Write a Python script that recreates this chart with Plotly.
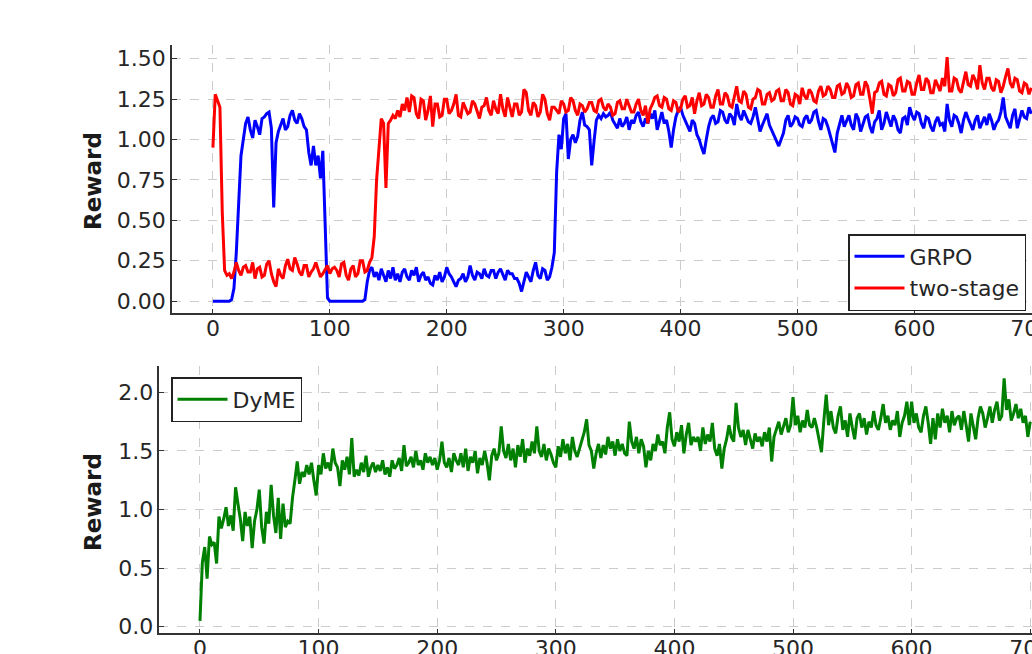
import plotly.graph_objects as go

steps = list(range(0, 701, 2))

grpo = [
    0.00, 0.00, 0.00, 0.00, 0.00, 0.00, 0.00, 0.00, 0.01, 0.08,
    0.30, 0.65, 0.90, 1.00, 1.10, 1.14, 1.06, 1.01, 1.12, 1.08,
    1.03, 1.13, 1.14, 1.16, 1.17, 1.07, 0.58, 0.98, 1.05, 1.09,
    1.13, 1.06, 1.08, 1.15, 1.18, 1.12, 1.10, 1.16, 1.13, 1.08,
    1.06, 0.92, 0.84, 0.96, 0.84, 0.90, 0.76, 0.93, 0.40, 0.02,
    0.00, 0.00, 0.00, 0.00, 0.00, 0.00, 0.00, 0.00, 0.00, 0.00,
    0.00, 0.00, 0.00, 0.00, 0.00, 0.01, 0.12, 0.19, 0.21, 0.15,
    0.18, 0.13, 0.20, 0.16, 0.12, 0.19, 0.14, 0.21, 0.13, 0.17,
    0.12, 0.18, 0.20, 0.15, 0.13, 0.19, 0.16, 0.21, 0.12, 0.16,
    0.18, 0.13, 0.15, 0.11, 0.10, 0.16, 0.13, 0.18, 0.12, 0.15,
    0.21, 0.17, 0.15, 0.12, 0.09, 0.13, 0.14, 0.17, 0.12, 0.15,
    0.22, 0.16, 0.13, 0.18, 0.17, 0.14, 0.20, 0.16, 0.15, 0.19,
    0.19, 0.14, 0.18, 0.20, 0.16, 0.13, 0.19, 0.17, 0.17, 0.14,
    0.14, 0.11, 0.06, 0.12, 0.18, 0.15, 0.12, 0.19, 0.24, 0.16,
    0.14, 0.20, 0.19, 0.13, 0.15, 0.21, 0.30, 0.80, 1.03, 0.94,
    1.13, 1.16, 0.88, 1.00, 1.03, 0.98, 1.02, 1.12, 1.17, 1.09,
    1.08, 1.06, 0.84, 0.99, 1.12, 1.15, 1.13, 1.16, 1.14, 1.15,
    1.17, 1.12, 1.09, 1.07, 1.13, 1.08, 1.10, 1.14, 1.06, 1.12,
    1.10, 1.15, 1.17, 1.11, 1.08, 1.13, 1.10, 1.16, 1.13, 1.18,
    1.06, 1.12, 1.17, 1.10, 1.12, 1.05, 0.95, 1.06, 1.14, 1.18,
    1.20, 1.15, 1.12, 1.08, 1.05, 1.12, 1.10, 1.03, 1.00, 0.95,
    0.91, 1.00, 1.08, 1.13, 1.15, 1.10, 1.11, 1.18, 1.17, 1.12,
    1.10, 1.16, 1.14, 1.09, 1.22, 1.15, 1.12, 1.18, 1.15, 1.11,
    1.10, 1.14, 1.20, 1.13, 1.05, 1.09, 1.12, 1.16, 1.09, 1.06,
    1.02, 0.99, 0.96, 1.00, 1.04, 1.12, 1.15, 1.08, 1.10, 1.14,
    1.13, 1.09, 1.08, 1.13, 1.15, 1.10, 1.12, 1.17, 1.18, 1.11,
    1.06, 1.13, 1.12, 1.08, 1.03, 0.97, 0.92, 1.04, 1.10, 1.15,
    1.08, 1.12, 1.15, 1.09, 1.06, 1.16, 1.13, 1.05, 1.09, 1.14,
    1.15, 1.08, 1.04, 1.11, 1.13, 1.18, 1.06, 1.10, 1.17, 1.12,
    1.08, 1.15, 1.12, 1.06, 1.04, 1.13, 1.14, 1.09, 1.20, 1.15,
    1.12, 1.17, 1.16, 1.10, 1.07, 1.14, 1.13, 1.08, 1.05, 1.11,
    1.14, 1.09, 1.10, 1.05, 1.22, 1.12, 1.08, 1.15, 1.14, 1.10,
    1.04, 1.12, 1.17, 1.13, 1.10, 1.06, 1.12, 1.15, 1.07, 1.11,
    1.14, 1.09, 1.16, 1.12, 1.06, 1.10, 1.12, 1.17, 1.26, 1.14,
    1.10, 1.07, 1.15, 1.19, 1.07, 1.12, 1.18, 1.14, 1.13, 1.20,
    1.16,
]

two_stage = [
    0.95, 1.28, 1.24, 1.20, 0.55, 0.19, 0.16, 0.17, 0.14, 0.18,
    0.24, 0.19, 0.16, 0.21, 0.22, 0.18, 0.18, 0.24, 0.14, 0.20,
    0.21, 0.15, 0.16, 0.23, 0.25, 0.17, 0.12, 0.09, 0.20, 0.16,
    0.14, 0.22, 0.26, 0.20, 0.19, 0.27, 0.23, 0.18, 0.16, 0.22,
    0.22, 0.15, 0.18, 0.20, 0.24, 0.19, 0.15, 0.17, 0.20, 0.22,
    0.17, 0.20, 0.21, 0.19, 0.15, 0.23, 0.24, 0.16, 0.13, 0.20,
    0.22, 0.15, 0.17, 0.25, 0.25, 0.18, 0.19, 0.24, 0.27, 0.40,
    0.75, 0.95, 1.13, 1.10, 0.70, 1.10, 1.12, 1.15, 1.13, 1.18,
    1.14, 1.22, 1.18, 1.26, 1.17, 1.27, 1.26, 1.16, 1.13, 1.25,
    1.24, 1.12, 1.18, 1.27, 1.08, 1.22, 1.22, 1.14, 1.15, 1.25,
    1.25, 1.16, 1.18, 1.22, 1.28, 1.15, 1.14, 1.23, 1.20, 1.16,
    1.17, 1.24, 1.22, 1.17, 1.13, 1.20, 1.21, 1.26, 1.18, 1.15,
    1.24, 1.19, 1.16, 1.28, 1.19, 1.14, 1.26, 1.20, 1.14, 1.22,
    1.22, 1.15, 1.17, 1.31, 1.29, 1.18, 1.15, 1.23, 1.21, 1.14,
    1.17, 1.28, 1.25, 1.16, 1.12, 1.20, 1.20, 1.18, 1.16, 1.24,
    1.22, 1.17, 1.18, 1.26, 1.24, 1.18, 1.15, 1.22, 1.21, 1.17,
    1.19, 1.23, 1.23, 1.18, 1.17, 1.24, 1.25, 1.20, 1.18, 1.22,
    1.20, 1.15, 1.16, 1.23, 1.24, 1.19, 1.19, 1.25, 1.21, 1.17,
    1.17, 1.22, 1.25, 1.18, 1.15, 1.21, 1.10, 1.19, 1.22, 1.26,
    1.27, 1.21, 1.20, 1.26, 1.25, 1.19, 1.18, 1.24, 1.23, 1.17,
    1.19, 1.25, 1.27, 1.20, 1.21, 1.26, 1.16, 1.24, 1.29, 1.21,
    1.22, 1.28, 1.26, 1.20, 1.20, 1.27, 1.31, 1.22, 1.22, 1.29,
    1.27, 1.21, 1.20, 1.27, 1.33, 1.24, 1.23, 1.30, 1.28, 1.20,
    1.19, 1.25, 1.26, 1.31, 1.30, 1.22, 1.22, 1.28, 1.29, 1.24,
    1.25, 1.30, 1.31, 1.24, 1.24, 1.31, 1.29, 1.22, 1.21, 1.28,
    1.27, 1.22, 1.32, 1.27, 1.25, 1.31, 1.29, 1.24, 1.23, 1.30,
    1.33, 1.27, 1.28, 1.33, 1.31, 1.26, 1.26, 1.33, 1.34, 1.28,
    1.29, 1.35, 1.32, 1.26, 1.27, 1.34, 1.35, 1.28, 1.28, 1.36,
    1.33, 1.25, 1.16, 1.29, 1.30, 1.35, 1.36, 1.28, 1.27, 1.34,
    1.33, 1.27, 1.29, 1.37, 1.38, 1.30, 1.30, 1.36, 1.35, 1.28,
    1.28, 1.35, 1.40, 1.31, 1.31, 1.38, 1.36, 1.29, 1.29, 1.37,
    1.34, 1.30, 1.38, 1.33, 1.51, 1.30, 1.30, 1.38, 1.37, 1.31,
    1.29, 1.36, 1.42, 1.34, 1.33, 1.40, 1.37, 1.31, 1.46, 1.35,
    1.31, 1.38, 1.38, 1.32, 1.30, 1.37, 1.36, 1.29, 1.33, 1.39,
    1.44, 1.35, 1.32, 1.38, 1.37, 1.30, 1.29, 1.35, 1.34, 1.28,
    1.32,
]

dyme = [
    0.05, 0.55, 0.68, 0.41, 0.77, 0.70, 0.72, 0.54, 0.94, 0.84,
    0.92, 1.02, 0.86, 0.95, 0.82, 1.19, 1.05, 0.92, 0.73, 0.98,
    0.86, 0.94, 0.67, 0.90, 1.00, 1.17, 0.85, 0.71, 0.98, 0.88,
    1.21, 0.95, 0.80, 1.10, 0.75, 1.05, 0.85, 0.90, 0.88, 1.10,
    1.25, 1.41, 1.22, 1.32, 1.28, 1.38, 1.30, 1.40, 1.25, 1.12,
    1.38, 1.30, 1.48, 1.35, 1.40, 1.33, 1.52, 1.40, 1.36, 1.20,
    1.42, 1.34, 1.45, 1.30, 1.61, 1.28, 1.34, 1.29, 1.40, 1.32,
    1.46, 1.28, 1.36, 1.40, 1.32, 1.38, 1.33, 1.42, 1.30, 1.36,
    1.28, 1.42, 1.35, 1.38, 1.44, 1.33, 1.55, 1.37, 1.40, 1.45,
    1.36, 1.50, 1.38, 1.42, 1.34, 1.48, 1.40, 1.45, 1.38, 1.44,
    1.34, 1.42, 1.58, 1.40, 1.36, 1.44, 1.32, 1.48, 1.42, 1.38,
    1.48, 1.36, 1.52, 1.33, 1.45, 1.40, 1.50, 1.31, 1.44, 1.38,
    1.50, 1.40, 1.25, 1.46, 1.52, 1.42, 1.48, 1.71, 1.50, 1.44,
    1.56, 1.42, 1.52, 1.36, 1.55, 1.45, 1.60, 1.40, 1.52, 1.46,
    1.58, 1.48, 1.71, 1.50, 1.45, 1.56, 1.42, 1.52, 1.47, 1.40,
    1.36, 1.54, 1.45, 1.60, 1.48, 1.56, 1.42, 1.62, 1.50, 1.45,
    1.52, 1.60, 1.66, 1.77, 1.55, 1.50, 1.35, 1.48, 1.56, 1.44,
    1.55, 1.47, 1.62, 1.52, 1.58, 1.46, 1.60, 1.50, 1.56, 1.48,
    1.46, 1.75, 1.58, 1.52, 1.62, 1.48, 1.60, 1.54, 1.36, 1.50,
    1.42, 1.56, 1.50, 1.64, 1.55, 1.58, 1.48, 1.70, 1.83, 1.60,
    1.54, 1.66, 1.58, 1.72, 1.48, 1.64, 1.74, 1.55, 1.62, 1.58,
    1.62, 1.50, 1.70, 1.56, 1.64, 1.58, 1.74, 1.52, 1.46, 1.56,
    1.35, 1.52, 1.60, 1.72, 1.62, 1.58, 1.91, 1.70, 1.62, 1.68,
    1.55, 1.68, 1.60, 1.52, 1.65, 1.58, 1.62, 1.54, 1.66, 1.58,
    1.70, 1.41, 1.62, 1.68, 1.75, 1.64, 1.70, 1.78, 1.66, 1.72,
    1.96, 1.72, 1.80, 1.66, 1.76, 1.70, 1.85, 1.72, 1.70, 1.78,
    1.70, 1.58, 1.49, 1.76, 1.98, 1.72, 1.84, 1.70, 1.65, 1.80,
    1.88, 1.68, 1.76, 1.62, 1.82, 1.70, 1.60, 1.78, 1.82, 1.70,
    1.78, 1.64, 1.75, 1.70, 1.84, 1.72, 1.68, 1.78, 1.90, 1.74,
    1.80, 1.68, 1.76, 1.72, 1.84, 1.62, 1.74, 1.80, 1.92, 1.72,
    1.92, 1.74, 1.82, 1.70, 1.66, 1.80, 1.88, 1.74, 1.56, 1.78,
    1.60, 1.82, 1.70, 1.86, 1.74, 1.80, 1.66, 1.84, 1.72, 1.78,
    1.80, 1.68, 1.84, 1.72, 1.58, 1.82, 1.70, 1.60, 1.78, 1.88,
    1.82, 1.70, 1.78, 1.88, 1.74, 1.85, 1.92, 1.76, 1.80, 2.12,
    1.85, 1.94, 1.76, 1.82, 1.90, 1.78, 1.86, 1.74, 1.80, 1.62,
    1.75,
]

x_ticks = [0, 100, 200, 300, 400, 500, 600, 700]
y_ticks_top = [0.0, 0.25, 0.5, 0.75, 1.0, 1.25, 1.5]
y_labels_top = ["0.00", "0.25", "0.50", "0.75", "1.00", "1.25", "1.50"]
y_ticks_bot = [0.0, 0.5, 1.0, 1.5, 2.0]
y_labels_bot = ["0.0", "0.5", "1.0", "1.5", "2.0"]

W, H = 1032, 654
FONT = "DejaVu Sans"
TICKC = "#262626"
SPINE = "#333333"
GRID = "#cccccc"

fig = go.Figure()
fig.add_trace(go.Scatter(x=steps, y=grpo, mode="lines", name="GRPO",
                         line=dict(color="#0000ff", width=3), xaxis="x", yaxis="y", legend="legend"))
fig.add_trace(go.Scatter(x=steps, y=two_stage, mode="lines", name="two-stage",
                         line=dict(color="#ff0000", width=3), xaxis="x", yaxis="y", legend="legend"))
fig.add_trace(go.Scatter(x=steps, y=dyme, mode="lines", name="DyME",
                         line=dict(color="#008000", width=3), xaxis="x2", yaxis="y2", legend="legend2"))

def xax(domain, rng, anchor):
    return dict(domain=domain, range=rng, anchor=anchor, tickvals=x_ticks,
                ticktext=[str(v) for v in x_ticks], showgrid=True, gridcolor=GRID,
                griddash="dash", gridwidth=1, zeroline=False, showline=True,
                linecolor=SPINE, linewidth=1.5, ticks="inside", ticklen=5,
                tickcolor=SPINE, tickwidth=1.2, ticklabeloverflow="allow",
                ticklabelstandoff=-5,
                tickfont=dict(family=FONT, size=22, color=TICKC), automargin=False)

def yax(domain, rng, anchor, tv, tt):
    return dict(domain=domain, range=rng, anchor=anchor, tickvals=tv, ticktext=tt,
                showgrid=True, gridcolor=GRID, griddash="dash", gridwidth=1,
                zeroline=False, showline=True, linecolor=SPINE, linewidth=1.5,
                ticks="inside", ticklen=5, tickcolor=SPINE, tickwidth=1.2,
                tickfont=dict(family=FONT, size=22, color=TICKC), automargin=False)

def ydom(top_px, bot_px):
    return [(H - bot_px) / H, (H - top_px) / H]

fig.update_layout(
    width=W, height=H,
    margin=dict(l=0, r=0, t=0, b=0),
    paper_bgcolor="white", plot_bgcolor="white",
    xaxis=xax([172 / W, 1.0], [-35, 700.6], "y"),
    yaxis=yax(ydom(45, 313.3), [-0.075, 1.585], "x", y_ticks_top, y_labels_top),
    xaxis2=xax([159.3 / W, 1.0], [-34.3, 701.5], "y2"),
    yaxis2=yax(ydom(366, 633.3), [-0.056, 2.225], "x2", y_ticks_bot, y_labels_bot),
    legend=dict(x=848 / W, y=1 - 234 / H, xanchor="left", yanchor="top",
                bgcolor="white", bordercolor="#222222", borderwidth=1.5, itemwidth=50,
                font=dict(family=FONT, size=22, color=TICKC)),
    legend2=dict(x=171 / W, y=1 - 377 / H, xanchor="left", yanchor="top",
                 bgcolor="white", bordercolor="#222222", borderwidth=1.5, itemwidth=50,
                 font=dict(family=FONT, size=22, color=TICKC)),
    annotations=[
        dict(text="<b>Reward</b>", x=93 / W, y=1 - 181 / H,
             xref="paper", yref="paper", xanchor="center", yanchor="middle",
             showarrow=False, textangle=-90, font=dict(family=FONT, size=23, color="#1a1a1a")),
        dict(text="<b>Reward</b>", x=93 / W, y=1 - 502 / H,
             xref="paper", yref="paper", xanchor="center", yanchor="middle",
             showarrow=False, textangle=-90, font=dict(family=FONT, size=23, color="#1a1a1a")),
    ],
)

fig.write_html("out.html", config={"displayModeBar": False},
               post_script="document.body.style.margin='0px';")
